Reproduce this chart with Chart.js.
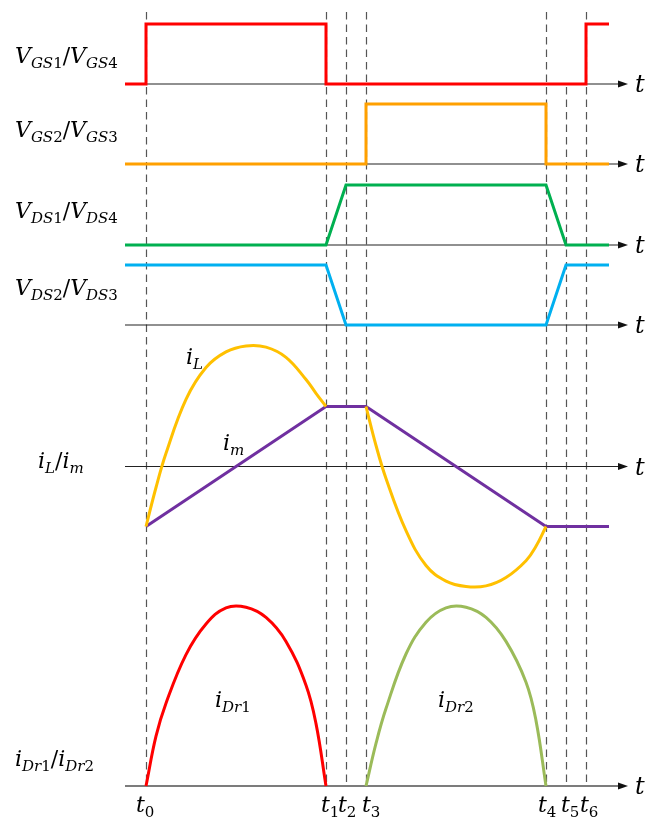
<!DOCTYPE html>
<html>
<head>
<meta charset="utf-8">
<title>LLC converter switching waveforms</title>
<script src="https://cdn.jsdelivr.net/npm/chart.js@4.4.1/dist/chart.umd.min.js"></script>
<style>
  html, body { margin: 0; padding: 0; background: #fff; }
  canvas { display: block; }
</style>
</head>
<body>
<canvas id="chart" width="647" height="823"></canvas>
<script>
// switching instants t0..t6, one unit = one dead-time slot
const tMarks = [0, 9, 10, 11, 20, 21, 22]
const tNames = ['t_{0}', 't_{1}', 't_{2}', 't_{3}', 't_{4}', 't_{5}', 't_{6}']
const tStart = -1.05
const tEnd = 23.15
const tAxisEnd = 24.1

// gate drive, 0 = off, 1 = on
const vgs14Time = [tStart, 0, 0, 9, 9, 22, 22, tEnd]
const vgs14 = [0, 0, 1, 1, 0, 0, 1, 1]
const vgs23Time = [tStart, 11, 11, 20, 20, tEnd]
const vgs23 = [0, 0, 1, 1, 0, 0]

// drain-source voltages, 1 = input voltage
const vdsTime = [tStart, 9, 10, 20, 21, tEnd]
const vds14 = [0, 0, 1, 1, 0, 0]
const vds23 = [1, 1, 0, 0, 1, 1]

// resonant current, in units of the magnetizing peak
const iLTime1 = [0, 0.5, 1, 2, 3, 4, 5, 6, 7, 8, 8.5, 9]
const iL1 = [-1, -0.35, 0.22, 1.12, 1.65, 1.91, 2.01, 1.99, 1.82, 1.45, 1.22, 1]
const iLTime2 = [11, 11.5, 12, 13, 14, 15, 16, 17, 18, 19, 19.5, 20]
const iL2 = [1, 0.35, -0.2, -1.07, -1.65, -1.91, -2.0, -1.99, -1.85, -1.57, -1.33, -1]

// magnetizing current
const imTime = [0, 9, 11, 20, tEnd]
const im = [-1, 1, 1, -1, -1]

// rectifier diode currents
const iDr1Time = [0, 0.5, 1, 2, 3, 4, 5, 6, 7, 8, 8.5, 9]
const iDr1 = [0, 0.83, 1.38, 2.19, 2.7, 2.97, 2.98, 2.81, 2.41, 1.68, 1.04, 0]
const iDr2Time = [11, 11.5, 12, 13, 14, 15, 16, 17, 18, 19, 19.5, 20]
const iDr2 = [0, 0.71, 1.29, 2.2, 2.73, 2.97, 2.98, 2.81, 2.41, 1.73, 1.09, 0]

const rowNames = ['V_{GS1}/V_{GS4}', 'V_{GS2}/V_{GS3}', 'V_{DS1}/V_{DS4}', 'V_{DS2}/V_{DS3}', 'i_{L}/i_{m}', 'i_{Dr1}/i_{Dr2}']

// page layout in px
const W = 647, H = 823
const area = { left: 125, top: 10, right: 628, bottom: 786 }
const rows = [
    { id: 'gs14', base: 84, unit: 60, label: [15, 63] },
    { id: 'gs23', base: 164, unit: 60, label: [15, 137] },
    { id: 'ds14', base: 245, unit: 60, label: [15, 218] },
    { id: 'ds23', base: 325, unit: 60, label: [15, 295] },
    { id: 'cur', base: 466.5, unit: 60, label: [38, 468] },
    { id: 'dr', base: 786, unit: 60, label: [15, 766] }
]
const guideTop = [12, 12, 12, 12, 12, 87, 12]
const mathFont = '"DejaVu Serif", "Liberation Serif", serif'

function points(times, values) {
    return times.map((t, i) => ({ x: t, y: values[i] }))
}

function trace(times, values, color, axis, extra) {
    return Object.assign({
        data: points(times, values),
        borderColor: color,
        borderWidth: 3,
        borderJoinStyle: 'miter',
        pointRadius: 0,
        fill: false,
        tension: 0,
        clip: false,
        yAxisID: axis
    }, extra || {})
}

// draws 'V_{GS1}/V_{GS4}' style text: letters italic, digits upright
function drawMath(ctx, str, x, y, size) {
    let cx = x
    const put = (c, sz, by) => {
        const italic = /[A-Za-z]/.test(c)
        ctx.font = (italic ? 'italic ' : '') + sz + 'px ' + mathFont
        ctx.fillText(c, cx, by)
        cx += ctx.measureText(c).width
    }
    let i = 0
    while (i < str.length) {
        if (str[i] === '_') {
            const end = str.indexOf('}', i)
            for (const c of str.slice(i + 2, end)) put(c, Math.round(size * 0.7), y + size * 0.22)
            i = end + 1
        } else {
            put(str[i], size, y)
            i++
        }
    }
}

const guides = {
    id: 'guides',
    beforeDatasetsDraw(chart) {
        const ctx = chart.ctx
        const x = chart.scales.x
        ctx.save()
        // dashed markers at each switching instant
        ctx.strokeStyle = '#555'
        ctx.lineWidth = 1.2
        ctx.setLineDash([7.5, 5])
        tMarks.forEach((t, k) => {
            const px = Math.round(x.getPixelForValue(t)) + 0.5
            ctx.beginPath()
            ctx.moveTo(px, guideTop[k])
            ctx.lineTo(px, area.bottom)
            ctx.stroke()
        })
        ctx.setLineDash([])
        // time axis of each row, with arrow
        const x0 = x.getPixelForValue(tStart)
        const x1 = x.getPixelForValue(tAxisEnd)
        rows.forEach((r, k) => {
            const py = chart.scales[r.id].getPixelForValue(0)
            const last = k === rows.length - 1
            ctx.strokeStyle = last ? '#505050' : '#222'
            ctx.fillStyle = '#111'
            ctx.lineWidth = last ? 1.6 : 1.2
            ctx.beginPath()
            ctx.moveTo(x0, py)
            ctx.lineTo(x1 - 6, py)
            ctx.stroke()
            ctx.beginPath()
            ctx.moveTo(x1, py)
            ctx.lineTo(x1 - 10, py - 3.5)
            ctx.lineTo(x1 - 10, py + 3.5)
            ctx.closePath()
            ctx.fill()
        })
        ctx.restore()
    },
    afterDatasetsDraw(chart) {
        const ctx = chart.ctx
        const x = chart.scales.x
        ctx.save()
        ctx.fillStyle = '#000'
        ctx.textBaseline = 'alphabetic'
        const x1 = x.getPixelForValue(tAxisEnd)
        rows.forEach((r, k) => {
            const py = chart.scales[r.id].getPixelForValue(0)
            drawMath(ctx, 't', x1 + 7, py + 8, 24)
            drawMath(ctx, rowNames[k], r.label[0], r.label[1], 22)
        })
        // curve names
        drawMath(ctx, 'i_{L}', 186, 364, 22)
        drawMath(ctx, 'i_{m}', 223, 450, 22)
        drawMath(ctx, 'i_{Dr1}', 215, 707, 22)
        drawMath(ctx, 'i_{Dr2}', 438, 707, 22)
        // instants under the bottom axis
        const nudge = [-10, -5, -8, -4, -8, -5, -6]
        tMarks.forEach((t, k) => {
            drawMath(ctx, tNames[k], x.getPixelForValue(t) + nudge[k], 812, 22)
        })
        ctx.restore()
    }
}

const yScales = {}
rows.forEach(r => {
    yScales[r.id] = {
        type: 'linear',
        display: false,
        min: (r.base - area.bottom) / r.unit,
        max: (r.base - area.top) / r.unit
    }
})

new Chart(document.getElementById('chart'), {
    type: 'line',
    data: {
        datasets: [
            trace(vgs14Time, vgs14, '#FF0000', 'gs14'),
            trace(vgs23Time, vgs23, '#FFA000', 'gs23'),
            trace(vdsTime, vds14, '#00B050', 'ds14'),
            trace(vdsTime, vds23, '#00B0F0', 'ds23'),
            trace(iLTime1, iL1, '#FFC000', 'cur', { tension: 0.4, order: 0 }),
            trace(iLTime2, iL2, '#FFC000', 'cur', { tension: 0.4, order: 0 }),
            trace(imTime, im, '#7030A0', 'cur', { order: 1 }),
            trace(iDr1Time, iDr1, '#FF0000', 'dr', { tension: 0.4 }),
            trace(iDr2Time, iDr2, '#9BBB59', 'dr', { tension: 0.4 })
        ]
    },
    options: {
        responsive: false,
        animation: false,
        devicePixelRatio: 1,
        layout: {
            padding: { left: area.left, top: area.top, right: W - area.right, bottom: H - area.bottom }
        },
        plugins: {
            legend: { display: false },
            tooltip: { enabled: false }
        },
        scales: Object.assign({
            x: { type: 'linear', display: false, min: tStart, max: tAxisEnd }
        }, yScales)
    },
    plugins: [guides]
})
</script>
</body>
</html>
